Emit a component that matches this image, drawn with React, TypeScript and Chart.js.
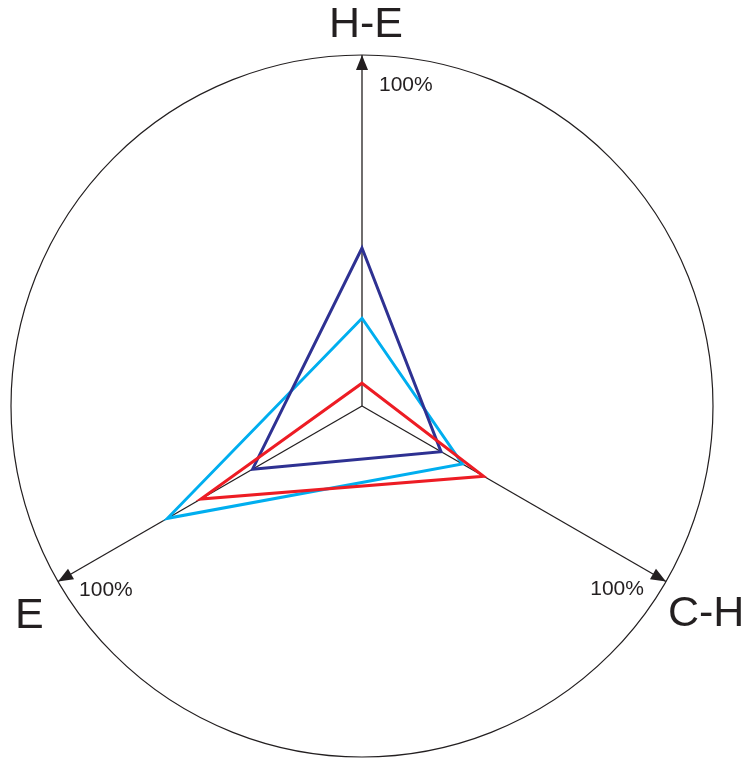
import React, { useEffect, useRef } from "react";
import { Chart, registerables } from "chart.js";

Chart.register(...registerables);

const axisLabels = ["H-E", "C-H", "E"];
const maxLabel = "100%";
const navySeries = [45, 26, 36];
const lightBlueSeries = [25, 33, 64];
const redSeries = [6.5, 40, 53];

const labelPlugin = {
  id: "axisDecor",
  afterDraw(chart: any) {
    const scale = chart.scales.r;
    const ctx = chart.ctx;
    const R = scale.drawingArea;
    const cx = scale.xCenter;
    const cy = scale.yCenter;
    ctx.save();
    // arrowheads
    for (let i = 0; i < axisLabels.length; i++) {
      const p = scale.getPointPosition(i, R);
      const ang = Math.atan2(p.y - cy, p.x - cx);
      const L = 15, W = 6;
      const bx = p.x - L * Math.cos(ang);
      const by = p.y - L * Math.sin(ang);
      ctx.beginPath();
      ctx.moveTo(p.x, p.y);
      ctx.lineTo(bx + W * Math.sin(ang), by - W * Math.cos(ang));
      ctx.lineTo(bx - W * Math.sin(ang), by + W * Math.cos(ang));
      ctx.closePath();
      ctx.fillStyle = "#231f20";
      ctx.fill();
    }
    ctx.fillStyle = "#231f20";
    ctx.textBaseline = "alphabetic";
    // big labels
    ctx.font = "43px 'Liberation Sans', Arial, sans-serif";
    const p0 = scale.getPointPosition(0, R);
    const p1 = scale.getPointPosition(1, R);
    const p2 = scale.getPointPosition(2, R);
    ctx.textAlign = "center";
    ctx.fillText(axisLabels[0], p0.x + 4, p0.y - 18);
    ctx.textAlign = "left";
    ctx.fillText(axisLabels[1], p1.x + 2, p1.y + 44);
    ctx.fillText(axisLabels[2], p2.x - 43, p2.y + 46);
    // 100% labels
    ctx.font = "21px 'Liberation Sans', Arial, sans-serif";
    ctx.textAlign = "left";
    ctx.fillText(maxLabel, p0.x + 17, p0.y + 36);
    ctx.fillText(maxLabel, p2.x + 21, p2.y + 14);
    ctx.textAlign = "right";
    ctx.fillText(maxLabel, p1.x - 22, p1.y + 13);
    ctx.restore();
  },
};

export default function App() {
  const ref = useRef<HTMLCanvasElement>(null);
  useEffect(() => {
    if (!ref.current) return;
    const chart = new Chart(ref.current, {
      type: "radar",
      data: {
        labels: axisLabels,
        datasets: [
          { label: "red", data: redSeries, borderColor: "#ED1C24" },
          { label: "navy", data: navySeries, borderColor: "#2E3192" },
          { label: "lightblue", data: lightBlueSeries, borderColor: "#00AEEF" },
        ].map((d) => ({
          ...d,
          fill: false,
          borderWidth: 3,
          pointRadius: 0,
          pointHoverRadius: 0,
          tension: 0,
          borderJoinStyle: "miter" as const,
          backgroundColor: "transparent",
        })),
      },
      options: {
        animation: false,
        responsive: false,
        maintainAspectRatio: false,
        layout: { padding: { left: 11, right: 32, top: 55, bottom: 1 } },
        plugins: { legend: { display: false }, tooltip: { enabled: false } },
        scales: {
          r: {
            min: 0,
            max: 100,
            ticks: { display: false, stepSize: 100 },
            pointLabels: { display: false },
            grid: { circular: true, color: "#231f20", lineWidth: 1.2 },
            angleLines: { display: true, color: "#231f20", lineWidth: 1.3 },
          },
        },
      },
      plugins: [labelPlugin],
    });
    return () => chart.destroy();
  }, []);
  return (
    <div style={{ position: "fixed", left: 0, top: 0, width: 745, height: 758, background: "#fff" }}>
      <canvas ref={ref} width={745} height={758} style={{ width: 745, height: 758 }} />
    </div>
  );
}
